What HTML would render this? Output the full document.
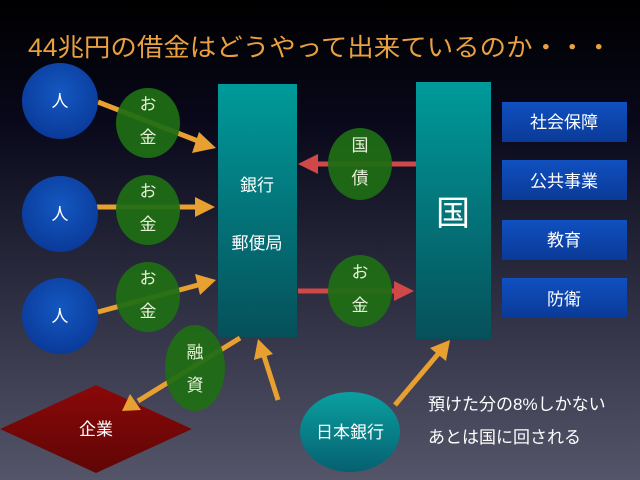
<!DOCTYPE html>
<html><head><meta charset="utf-8"><style>
html,body{margin:0;padding:0;width:640px;height:480px;overflow:hidden;background:#000}
svg{display:block}
text{font-family:"Liberation Sans","Noto Sans CJK JP",sans-serif}
</style></head><body>
<svg width="640" height="480" viewBox="0 0 640 480" xmlns="http://www.w3.org/2000/svg">
<defs>
<linearGradient id="bg" x1="0" y1="0" x2="0" y2="1">
<stop offset="0" stop-color="#000"/><stop offset="0.25" stop-color="#08081a"/><stop offset="1" stop-color="#55556a"/></linearGradient>
<linearGradient id="teal" x1="0" y1="0" x2="0" y2="1">
<stop offset="0" stop-color="#009a9a"/><stop offset="1" stop-color="#06505a"/></linearGradient>
<linearGradient id="blue" x1="0" y1="0" x2="0" y2="1">
<stop offset="0" stop-color="#1050c0"/><stop offset="1" stop-color="#0a3a98"/></linearGradient>
<radialGradient id="circ" cx="0.5" cy="0.4" r="0.6">
<stop offset="0" stop-color="#1458c0"/><stop offset="1" stop-color="#0a3a9a"/></radialGradient>
<linearGradient id="red" x1="0" y1="0" x2="0" y2="1">
<stop offset="0" stop-color="#8a0808"/><stop offset="1" stop-color="#600606"/></linearGradient>
<linearGradient id="oval" x1="0" y1="0" x2="0" y2="1">
<stop offset="0" stop-color="#0aa0a0"/><stop offset="1" stop-color="#066070"/></linearGradient>
</defs>
<rect width="640" height="480" fill="url(#bg)"/>
<text x="28" y="56" font-size="25" fill="#e8a040" textLength="584" lengthAdjust="spacingAndGlyphs">44兆円の借金はどうやって出来ているのか・・・</text>

<rect x="218" y="84" width="79" height="253" fill="url(#teal)"/>
<text x="257" y="191" font-size="17" fill="#fff" text-anchor="middle">銀行</text>
<text x="257" y="249" font-size="17" fill="#fff" text-anchor="middle">郵便局</text>
<rect x="416" y="82" width="75" height="257" fill="url(#teal)"/>
<text x="453" y="225" font-size="34" fill="#fff" text-anchor="middle">国</text>

<g fill="url(#blue)"><rect x="502" y="102" width="125" height="40"/><rect x="502" y="160" width="125" height="40"/><rect x="502" y="220" width="125" height="40"/><rect x="502" y="278" width="125" height="40"/></g>
<g font-size="17" fill="#fff" text-anchor="middle">
<text x="564" y="128">社会保障</text><text x="564" y="187">公共事業</text><text x="564" y="246">教育</text><text x="564" y="305">防衛</text></g>

<polygon points="0,429 96,385 192,429 96,473" fill="url(#red)"/>
<text x="96" y="435" font-size="17" fill="#fff" text-anchor="middle">企業</text>

<g stroke="#e8a030" stroke-width="5" fill="#e8a030">
<line x1="98" y1="102" x2="198" y2="141"/><polygon points="216,148 192,153 199,132" stroke="none"/>
<line x1="97" y1="207" x2="196" y2="207"/><polygon points="215,207 195,197 195,217" stroke="none"/>
<line x1="98" y1="312" x2="198" y2="285"/><polygon points="216,280 195,274 200,295" stroke="none"/>
<line x1="240" y1="338" x2="138" y2="401"/><polygon points="122,411 130,394 141,410" stroke="none"/>
<line x1="278" y1="400" x2="264" y2="356"/><polygon points="258,339 254,360 273,354" stroke="none"/>
<line x1="395" y1="405" x2="438" y2="354"/><polygon points="450,340 430,348 446,361" stroke="none"/>
</g>
<g stroke="#d04848" stroke-width="5" fill="#d04848">
<line x1="416" y1="164" x2="314" y2="164"/><polygon points="298,164 318,154 318,174" stroke="none"/>
<line x1="298" y1="291" x2="398" y2="291"/><polygon points="414,291 394,281 394,301" stroke="none"/>
</g>

<g fill="url(#circ)"><circle cx="60" cy="101" r="38"/><circle cx="60" cy="214" r="38"/><circle cx="60" cy="316" r="38"/></g>
<g font-size="17" fill="#fff" text-anchor="middle"><text x="60" y="107">人</text><text x="60" y="220">人</text><text x="60" y="322">人</text></g>

<g fill="#1e6e14" fill-opacity="0.93">
<ellipse cx="148" cy="123" rx="32" ry="35"/><ellipse cx="148" cy="210" rx="32" ry="35"/><ellipse cx="148" cy="297" rx="32" ry="35"/>
<ellipse cx="360" cy="164" rx="32" ry="36"/><ellipse cx="360" cy="291" rx="32" ry="36"/>
<ellipse cx="195" cy="368" rx="30" ry="43"/></g>
<g font-size="17" fill="#e8f0d8" text-anchor="middle">
<text x="148" y="110">お</text><text x="148" y="143">金</text>
<text x="148" y="197">お</text><text x="148" y="230">金</text>
<text x="148" y="284">お</text><text x="148" y="317">金</text>
<text x="360" y="151">国</text><text x="360" y="184">債</text>
<text x="360" y="278">お</text><text x="360" y="311">金</text>
<text x="195" y="358">融</text><text x="195" y="391">資</text></g>

<ellipse cx="350" cy="432" rx="50" ry="40" fill="url(#oval)"/>
<text x="350" y="438" font-size="17" fill="#fff" text-anchor="middle">日本銀行</text>

<text x="428" y="410" font-size="17" fill="#fff">預けた分の8%しかない</text>
<text x="428" y="443" font-size="17" fill="#fff">あとは国に回される</text>
</svg>
</body></html>
